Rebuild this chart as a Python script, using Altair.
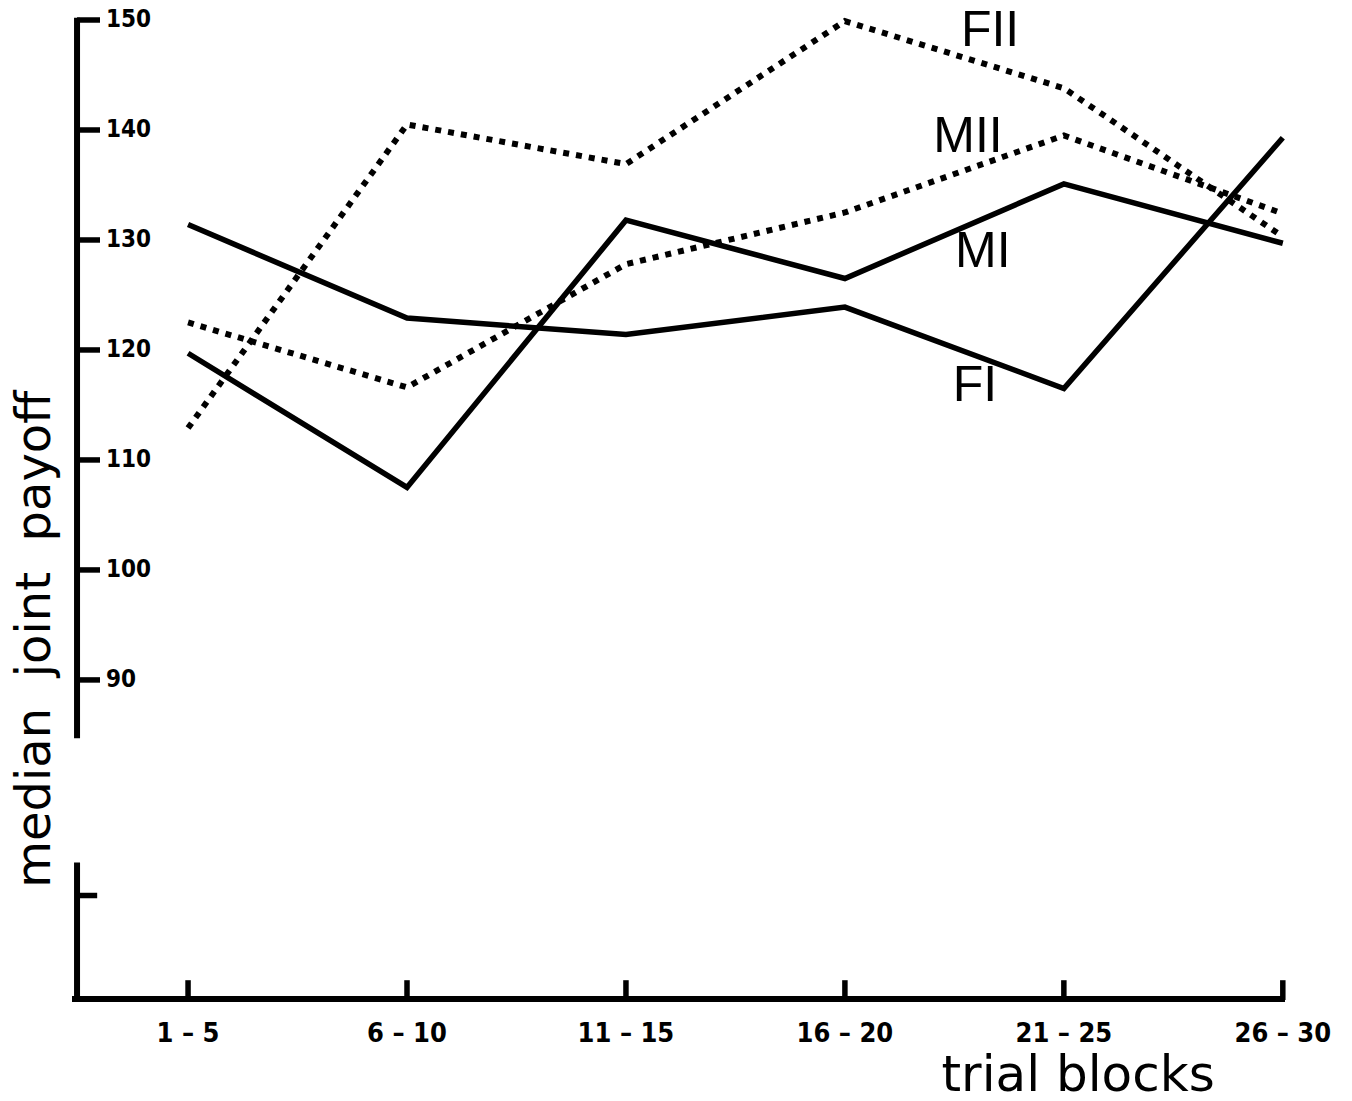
import altair as alt
import pandas as pd

# ---- data ----
blocks = ["1 – 5", "6 – 10", "11 – 15", "16 – 20", "21 – 25", "26 – 30"]
block_idx = [0, 1, 2, 3, 4, 5]
FII = [112.9, 140.5, 136.9, 149.9, 143.8, 130.3]
MII = [122.5, 116.6, 127.8, 132.5, 139.5, 132.4]
MI = [119.7, 107.5, 131.8, 126.5, 135.1, 129.7]
FI = [131.4, 122.9, 121.4, 123.9, 116.5, 139.3]

y_ticks = [150, 140, 130, 120, 110, 100, 90]

series_names = ["FII", "MII", "MI", "FI"]
series_label_x = [3.663, 3.562, 3.63, 3.594]
series_label_y = [149.0, 139.4, 128.9, 116.7]

# ---- scale / axis geometry (in data units) ----
X_DOMAIN = [-0.53, 5.01]
Y_DOMAIN = [60.9, 150.0]
Y_AXIS_X = -0.507
Y_TICK_LEN = 0.105
X_TICK_LEN = 1.8
Y_BREAK_TOP = 84.7
Y_BREAK_BOTTOM = 73.4
Y_MINOR_TICK = 70.4
Y_TOP = 150.2

COND_BOLD = "DejaVu Sans Condensed, Liberation Sans, sans-serif"

xs = alt.Scale(domain=X_DOMAIN, nice=False, zero=False)
ys = alt.Scale(domain=Y_DOMAIN, nice=False, zero=False)

rows = []
for name, vals in [("FII", FII), ("MII", MII), ("MI", MI), ("FI", FI)]:
    for i, v in zip(block_idx, vals):
        rows.append({"series": name, "x": i, "y": v,
                     "style": "dotted" if name.endswith("II") else "solid"})
df = pd.DataFrame(rows)


def X():
    return alt.X("x:Q", scale=xs, axis=None)


def Y():
    return alt.Y("y:Q", scale=ys, axis=None)


solid = alt.Chart(df[df["style"] == "solid"]).mark_line(
    color="black", strokeWidth=5.5, strokeJoin="miter", strokeCap="butt"
).encode(x=X(), y=Y(), detail="series:N")

dotted = alt.Chart(df[df["style"] == "dotted"]).mark_line(
    color="black", strokeWidth=6, strokeDash=[6, 7], strokeCap="butt"
).encode(x=X(), y=Y(), detail="series:N")

# y axis (broken)
yaxis_df = pd.DataFrame({
    "x": [Y_AXIS_X, Y_AXIS_X],
    "y": [Y_TOP, Y_BREAK_BOTTOM],
    "y2": [Y_BREAK_TOP, Y_DOMAIN[0]],
})
yaxis = alt.Chart(yaxis_df).mark_rule(color="black", strokeWidth=6).encode(
    x=X(), y=Y(), y2="y2:Q")

# x axis line
xaxis_df = pd.DataFrame({"x": [X_DOMAIN[0]], "x2": [X_DOMAIN[1]], "y": [Y_DOMAIN[0] + 0.1]})
xaxis = alt.Chart(xaxis_df).mark_rule(color="black", strokeWidth=6).encode(
    x=X(), x2="x2:Q", y=Y())

# y ticks
ytick_df = pd.DataFrame({
    "x": [Y_AXIS_X] * (len(y_ticks) + 1),
    "x2": [Y_AXIS_X + Y_TICK_LEN] * len(y_ticks) + [Y_AXIS_X + 0.092],
    "y": y_ticks + [Y_MINOR_TICK],
})
yticks = alt.Chart(ytick_df).mark_rule(color="black", strokeWidth=5.5).encode(
    x=X(), x2="x2:Q", y=Y())

ylab_df = pd.DataFrame({"x": [Y_AXIS_X] * len(y_ticks), "y": y_ticks,
                        "t": [str(v) for v in y_ticks]})
ylabels = alt.Chart(ylab_df).mark_text(
    align="left", baseline="middle", dx=29, font=COND_BOLD,
    fontWeight="bold", fontSize=24, color="black"
).encode(x=X(), y=Y(), text="t:N")

# x ticks
xtick_df = pd.DataFrame({"x": block_idx, "y": [Y_DOMAIN[0]] * 6,
                         "y2": [Y_DOMAIN[0] + X_TICK_LEN] * 6})
xticks = alt.Chart(xtick_df).mark_rule(color="black", strokeWidth=5.5).encode(
    x=X(), y=Y(), y2="y2:Q")

xlab_df = pd.DataFrame({"x": block_idx, "y": [Y_DOMAIN[0]] * 6, "t": blocks})
xlabels = alt.Chart(xlab_df).mark_text(
    align="center", baseline="middle", dy=34, font=COND_BOLD,
    fontWeight="bold", fontSize=27, color="black"
).encode(x=X(), y=Y(), text="t:N")

# series labels
slab_df = pd.DataFrame({"x": series_label_x, "y": series_label_y, "t": series_names})
slabels = alt.Chart(slab_df).mark_text(
    align="center", baseline="middle", font="Liberation Sans",
    fontSize=50, color="black"
).encode(x=X(), y=Y(), text="t:N")

# axis titles
ytitle_df = pd.DataFrame({"x": [-0.695], "y": [93.7],
                          "t": ["median\u00a0\u00a0joint\u00a0\u00a0payoff"]})
ytitle = alt.Chart(ytitle_df).mark_text(
    align="center", baseline="middle", font="DejaVu Sans", fontSize=48,
    angle=270, color="black"
).encode(x=X(), y=Y(), text="t:N")

xtitle_df = pd.DataFrame({"x": [4.065], "y": [52.6], "t": ["trial blocks"]})
xtitle = alt.Chart(xtitle_df).mark_text(
    align="center", baseline="alphabetic", font="DejaVu Sans", fontSize=50,
    color="black"
).encode(x=X(), y=Y(), text="t:N")

chart = alt.layer(
    yaxis, xaxis, yticks, xticks, dotted, solid, ylabels, xlabels, slabels, ytitle, xtitle
).properties(
    width=1213, height=980,
    autosize=alt.AutoSizeParams(type="none"),
    padding={"left": 64, "top": 12, "right": 50, "bottom": 93},
    background="white",
).configure_view(stroke=None)

chart.save("out.html", embed_options={"renderer": "svg", "actions": False})
